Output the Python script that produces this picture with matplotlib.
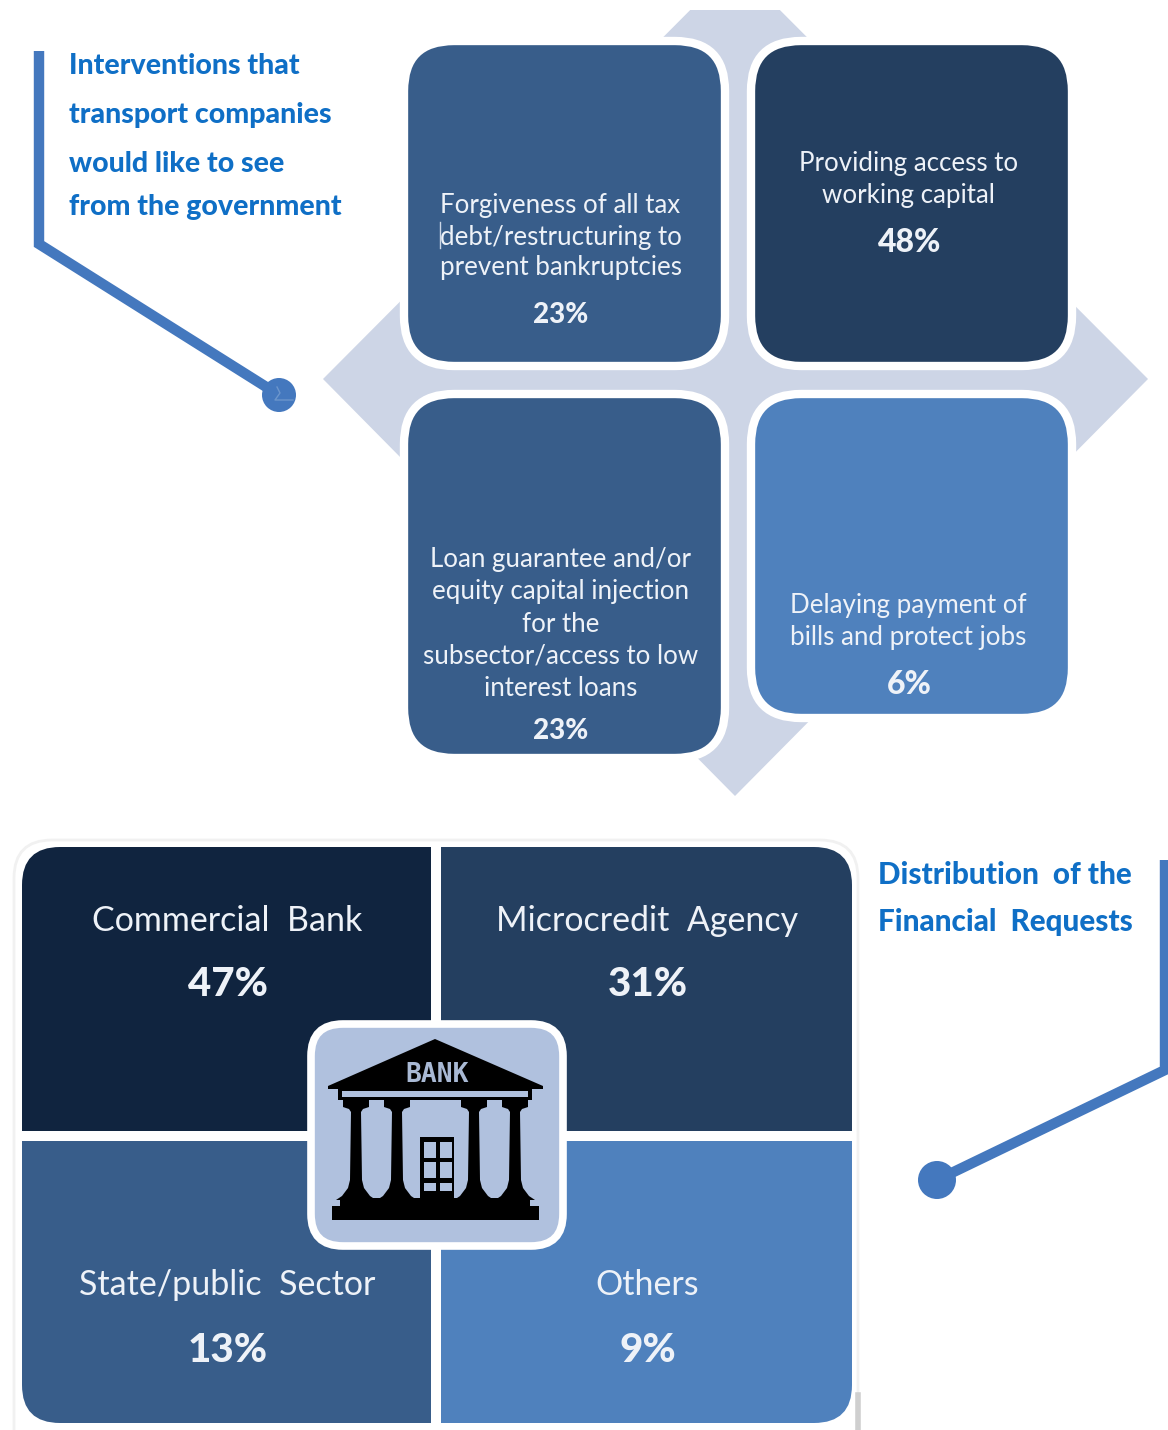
import matplotlib
matplotlib.use("Agg")
import matplotlib.pyplot as plt
from matplotlib.patches import FancyBboxPatch, Polygon, Circle, Rectangle

W, H = 1168, 1430
plt.rcParams['font.family'] = ['Lato', 'DejaVu Sans']

top_labels = [["Forgiveness of all tax", "debt/restructuring to", "prevent bankruptcies"],
              ["Providing access to", "working capital"],
              ["Loan guarantee and/or", "equity capital injection", "for the", "subsector/access to low", "interest loans"],
              ["Delaying payment of", "bills and protect jobs"]]
top_values = ["23%", "48%", "23%", "6%"]
bottom_labels = ["Commercial  Bank", "Microcredit  Agency", "State/public  Sector", "Others"]
bottom_values = ["47%", "31%", "13%", "9%"]
title_top = ["Interventions that", "transport companies", "would like to see", "from the government"]
title_bottom = ["Distribution  of the", "Financial  Requests"]

DARK, NAVY, MID, LIGHT = "#10243F", "#243F60", "#385D8A", "#4F81BD"
BLUE = "#0F6FC6"
PALE = "#B0C1DE"
TXT = "#EEF2F8"

fig = plt.figure(figsize=(W/100, H/100), dpi=100)
ax = fig.add_axes([0, 0, 1, 1])
ax.set_xlim(0, W); ax.set_ylim(H, 0); ax.axis("off")

# diamond behind the top panel
ax.add_patch(Polygon([(735, -35), (1148, 379), (735, 796), (323, 379)],
                     closed=True, fc="#CDD5E6", ec="none", zorder=1))
ax.add_patch(Rectangle((600, -70), 270, 80, fc="white", ec="none", zorder=1.5))

def rbox(x0, y0, x1, y1, r, fc, z=2, lw=6):
    ax.add_patch(FancyBboxPatch((x0+r, y0+r), x1-x0-2*r, y1-y0-2*r,
                                boxstyle=f"round,pad={r},rounding_size={r}",
                                fc=fc, ec="white", lw=lw, zorder=z))

boxes = [(404, 41, 725, 366), (751, 41, 1072, 366), (404, 394, 725, 758), (751, 394, 1072, 718)]
fills = [MID, NAVY, MID, LIGHT]
first_y = [206, 164, 560, 606]
steps = [31, 31, 32, 31]
val_y = [315, 243, 731, 685]
val_size = [20, 23, 20, 23]
for b, f, lines, v, ty, st, vy, vs in zip(boxes, fills, top_labels, top_values, first_y, steps, val_y, val_size):
    rbox(*b, 50, f)
    cx = (b[0]+b[2])/2 - 4 if b[0] < 500 else (b[0]+b[2])/2 - 3
    for i, s in enumerate(lines):
        ax.text(cx, ty + i*st, s, color=TXT, fontsize=18.6, ha="center", va="center", zorder=3)
    ax.text(cx + (1 if b[0] > 500 else 0), vy, v, color=TXT, fontsize=vs, fontweight="black", ha="center", va="center", zorder=3)
# text cursor caught in the original screenshot
ax.plot([440, 440], [222, 248], color="#CBD6E6", lw=1, zorder=3)

# bottom panel
ax.add_patch(FancyBboxPatch((52, 878), 768, 552, boxstyle="round,pad=38,rounding_size=38",
                            fc="white", ec="#F1F1F1", lw=2, zorder=1.8))
ax.plot([858, 858], [1395, 1430], color="#CFCFCF", lw=4, zorder=1.9)
quads = [(22, 847, 431, 1131), (441, 847, 852, 1131), (22, 1141, 431, 1423), (441, 1141, 852, 1423)]
qfills = [DARK, NAVY, MID, LIGHT]
r = 38
for i, (q, f) in enumerate(zip(quads, qfills)):
    x0, y0, x1, y1 = q
    ax.add_patch(FancyBboxPatch((x0+r, y0+r), x1-x0-2*r, y1-y0-2*r,
                                boxstyle=f"round,pad={r},rounding_size={r}", fc=f, ec="none", zorder=2))
    # corners facing the panel centre are square
    sx = x0 + r if i % 2 == 0 else x0
    sy = y0 + r if i < 2 else y0
    ax.add_patch(Rectangle((sx, y0), x1-x0-r, y1-y0, fc=f, ec="none", zorder=2))
    ax.add_patch(Rectangle((x0, sy), x1-x0, y1-y0-r, fc=f, ec="none", zorder=2))
    cx = (x0+x1)/2 + 1
    up = i < 2
    ax.text(cx, y0+74 if up else y0+144, bottom_labels[i], color=TXT,
            fontsize=24.5, ha="center", va="center", zorder=3)
    ax.text(cx, y0+138 if up else y0+210, bottom_values[i], color=TXT,
            fontsize=29, fontweight="black", ha="center", va="center", zorder=3)

# centre icon
rbox(311, 1024, 563, 1246, 32, PALE, z=4, lw=5.5)
K = "black"
ax.add_patch(Polygon([(328, 1086), (435, 1039), (543, 1086), (543, 1089), (328, 1089)], fc=K, ec="none", zorder=5))
ax.add_patch(Rectangle((338, 1088), 194, 12, fc=K, ec="none", zorder=5))
ax.add_patch(Rectangle((342, 1090.5), 186, 6.5, fc=PALE, ec="none", zorder=6))
for cx in (356, 397, 474, 515):
    ax.add_patch(Polygon([(cx-13, 1100), (cx+13, 1100), (cx+13, 1107), (cx+7, 1109), (cx+5, 1112), (cx+6, 1180),
                          (cx+8, 1188), (cx+14, 1196), (cx+20, 1200), (cx-20, 1200), (cx-14, 1196), (cx-8, 1188),
                          (cx-6, 1180), (cx-5, 1112), (cx-7, 1109), (cx-13, 1107)],
                         fc=K, ec="none", zorder=5))
ax.add_patch(Rectangle((420, 1137), 34, 64, fc=K, ec="none", zorder=5))
for (xa, xb) in ((424, 436), (440, 452)):
    for (ya, yb) in ((1141.5, 1158), (1162, 1178), (1183, 1191)):
        ax.add_patch(Rectangle((xa, ya), xb-xa, yb-ya, fc=PALE, ec="none", zorder=6))
ax.add_patch(Rectangle((340, 1198), 190, 10, fc=K, ec="none", zorder=5))
ax.add_patch(Rectangle((332, 1206), 207, 14, fc=K, ec="none", zorder=5))
ax.text(437, 1075, "BANK", color="#A9B9D4", fontsize=19, fontweight="bold", ha="center", va="center",
        family=['DejaVu Sans Mono', 'DejaVu Sans'], zorder=6)

# callouts
LINE = "#4478BE"
ax.plot([39, 39, 279], [51, 244, 395], color=LINE, lw=7.5, solid_joinstyle="miter", solid_capstyle="butt", zorder=2)
ax.add_patch(Circle((279, 395), 17, fc=LINE, ec="none", zorder=3))
ax.plot([277, 280, 275, 293], [387, 393, 400, 400], color="#6C96CC", lw=1, zorder=4)
ax.plot([1165, 1165, 937], [860, 1070, 1180], color=LINE, lw=7.5, solid_joinstyle="miter", solid_capstyle="butt", zorder=2)
ax.add_patch(Circle((937, 1180), 19, fc=LINE, ec="none", zorder=3))

for s, y in zip(title_top, [66.5, 114.5, 164.5, 207.5]):
    ax.text(69, y, s, color=BLUE, fontsize=20.5, fontweight="black", ha="left", va="center", zorder=3)
for s, y in zip(title_bottom, [874.5, 921.5]):
    ax.text(878, y, s, color=BLUE, fontsize=21.3, fontweight="black", ha="left", va="center", zorder=3)

fig.savefig("out.png", dpi=100, facecolor="white")
